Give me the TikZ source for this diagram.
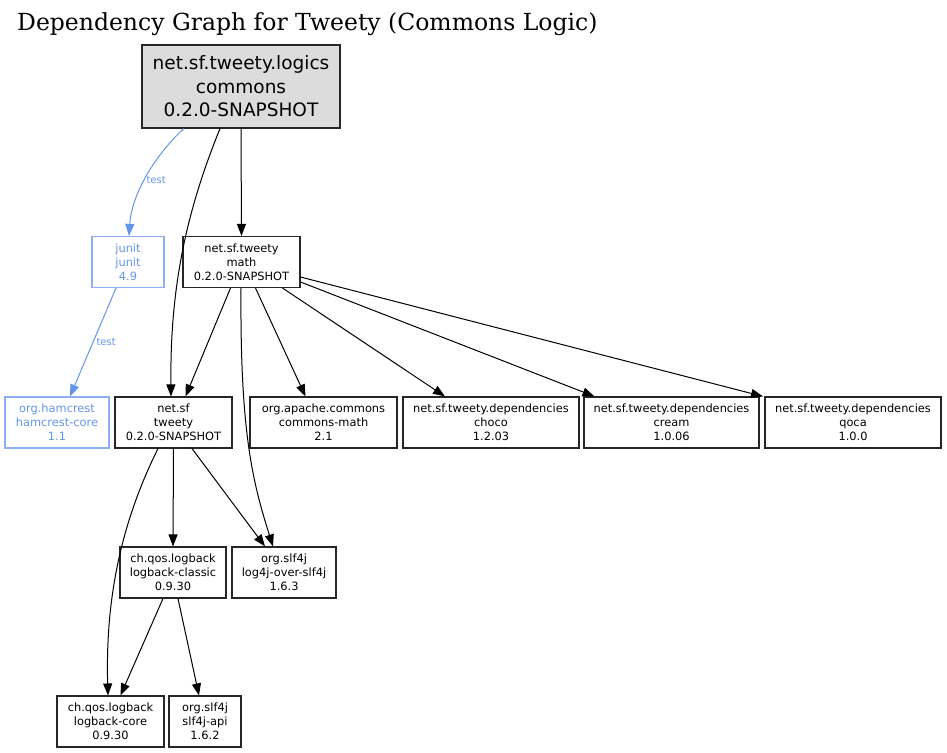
\documentclass[tikz,border=0pt]{standalone}
\usepackage{fontspec}
\setsansfont{DejaVu Sans}
\newfontfamily\titlefont{DejaVu Serif}
\usetikzlibrary{arrows.meta}
\definecolor{testblue}{HTML}{6495ED}
\definecolor{rootgray}{HTML}{DCDCDC}
\tikzset{
  artifact/.style={draw=black!85, line width=1.1pt, align=center, inner sep=0pt,
    minimum height=51pt, font=\sffamily\fontsize{11.4}{14}\selectfont},
  rootartifact/.style={artifact, fill=rootgray, minimum width=198pt, minimum height=83pt,
    font=\sffamily\fontsize{18.5}{23.5}\selectfont},
  testartifact/.style={artifact, draw=testblue!75, text=testblue},
  dep/.style={-{Triangle[length=12pt,width=9pt]}, line width=1pt},
  testdep/.style={dep, draw=testblue},
  testlabel/.style={font=\sffamily\fontsize{10}{11}\selectfont, text=testblue, inner sep=1pt},
}
\begin{document}
\begin{tikzpicture}[x=1pt, y=-1pt]
    \useasboundingbox (0,0) rectangle (947,752);
    \node [anchor=west, inner sep=0pt, font=\titlefont\fontsize{23.5}{28}\selectfont] (title) at (17,24) {Dependency Graph for Tweety (Commons Logic)};
    % top level artifact
    \node [rootartifact] (root) at (241,86.5) {net.sf.tweety.logics\\commons\\0.2.0-SNAPSHOT};
    \node [testartifact, minimum width=72pt] (junit) at (128,262) {junit\\junit\\4.9};
    \node [artifact, minimum width=117pt] (math) at (241.5,262) {net.sf.tweety\\math\\0.2.0-SNAPSHOT};
    \node [testartifact, minimum width=104pt] (hamcrest) at (57,422.5) {org.hamcrest\\hamcrest-core\\1.1};
    \node [artifact, minimum width=117pt] (tweety) at (173.5,422.5) {net.sf\\tweety\\0.2.0-SNAPSHOT};
    \node [artifact, minimum width=147pt] (cmath) at (323.5,422.5) {org.apache.commons\\commons-math\\2.1};
    \node [artifact, minimum width=176pt] (choco) at (491,422.5) {net.sf.tweety.dependencies\\choco\\1.2.03};
    \node [artifact, minimum width=175pt] (cream) at (671.5,422.5) {net.sf.tweety.dependencies\\cream\\1.0.06};
    \node [artifact, minimum width=176pt] (qoca) at (853,422.5) {net.sf.tweety.dependencies\\qoca\\1.0.0};
    \node [artifact, minimum width=106pt] (classic) at (173,572.5) {ch.qos.logback\\logback-classic\\0.9.30};
    \node [artifact, minimum width=104pt] (log4j) at (284,572.5) {org.slf4j\\log4j-over-slf4j\\1.6.3};
    \node [artifact, minimum width=107pt] (core) at (110.5,721.5) {ch.qos.logback\\logback-core\\0.9.30};
    \node [artifact, minimum width=72pt] (api) at (205,721.5) {org.slf4j\\slf4j-api\\1.6.2};
    % dependencies
    \draw [testdep] ([xshift=-57pt]root.south) .. controls (160,150) and (132,190) .. ([xshift=1pt]junit.north)
        node [testlabel, pos=0.56, right] {test};
    \draw [testdep] ([xshift=-12pt]junit.south) -- ([xshift=13pt]hamcrest.north)
        node [testlabel, midway, right=2pt] {test};
    \draw [dep] ([xshift=-21pt]root.south) .. controls (185,215) and (170,290) .. ([xshift=-2.5pt]tweety.north);
    \draw [dep] (root.south) -- (math.north);
    \draw [dep] ([xshift=-11pt]math.south) -- ([xshift=12pt]tweety.north);
    \draw [dep] ([xshift=-0.5pt]math.south) .. controls (240,430) and (252,480) .. ([xshift=-11pt]log4j.north);
    \draw [dep] ([xshift=14pt]math.south) -- ([xshift=-18pt]cmath.north);
    \draw [dep] ([xshift=41pt]math.south) -- ([xshift=-46pt]choco.north);
    \draw [dep] ([yshift=-20pt]math.east) -- ([xshift=-77pt]cream.north);
    \draw [dep] ([yshift=-15pt]math.east) -- ([xshift=-90pt]qoca.north);
    \draw [dep] (tweety.south) -- (classic.north);
    \draw [dep] ([xshift=18.5pt]tweety.south) -- ([xshift=-19pt]log4j.north);
    \draw [dep] ([xshift=-15.5pt]tweety.south) .. controls (125,515) and (105,590) .. ([xshift=-2.5pt]core.north);
    \draw [dep] ([xshift=-10pt]classic.south) -- ([xshift=10pt]core.north);
    \draw [dep] ([xshift=5pt]classic.south) -- ([xshift=-6pt]api.north);
\end{tikzpicture}
\end{document}
